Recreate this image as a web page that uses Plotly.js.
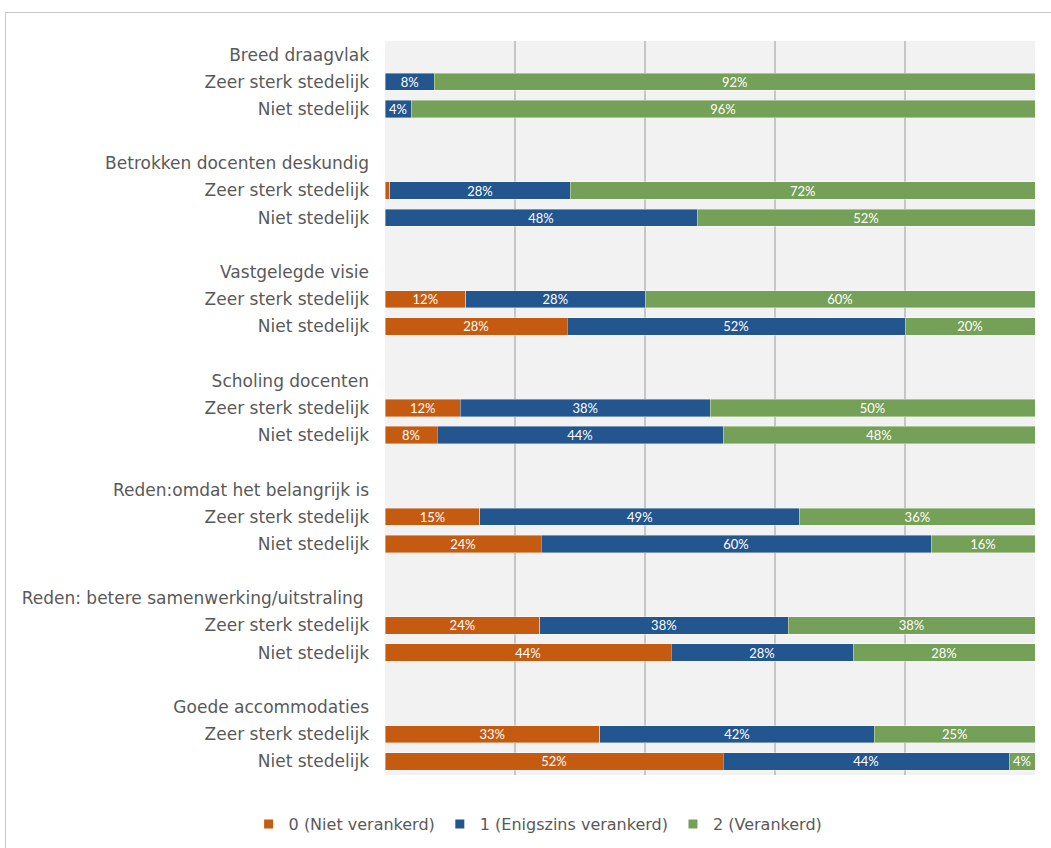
<!DOCTYPE html>
<html>
<head>
<meta charset="utf-8">
<script src="https://cdn.plot.ly/plotly-3.0.1.min.js"></script>
<style>
  html, body { margin: 0; padding: 0; background: #ffffff; overflow: hidden; }
  #frame { position: absolute; left: 5px; top: 12px; width: 1200px; height: 1000px; border: 1px solid #c9c9c9; box-sizing: border-box; }
  #chart { position: absolute; left: 0; top: 0; width: 1051px; height: 848px; }
</style>
</head>
<body>
<div id="frame"></div>
<div id="chart"></div>
<script>
// Groups (headers) and sub-rows
const groups = [
  "Breed draagvlak",
  "Betrokken docenten deskundig",
  "Vastgelegde visie",
  "Scholing docenten",
  "Reden:omdat het belangrijk is",
  "Reden: betere samenwerking/uitstraling\u00a0",
  "Goede accommodaties"
];
const subRows = ["Zeer sterk stedelijk", "Niet stedelijk"];

// Values per group: [Zeer sterk stedelijk, Niet stedelijk]
const niet = [
  [0, 0],
  [0.7, 0],
  [12.4, 28],
  [11.6, 8],
  [14.6, 24],
  [23.8, 44],
  [33, 52]
];
const enigszins = [
  [7.6, 4],
  [27.8, 48],
  [27.6, 52],
  [38.4, 44],
  [49.2, 60],
  [38.2, 28],
  [42.3, 44]
];
const verankerd = [
  [92.4, 96],
  [71.5, 52],
  [60, 20],
  [50, 48],
  [36.2, 16],
  [38, 28],
  [24.7, 4]
];

const seriesNames = ["0 (Niet verankerd)", "1 (Enigszins verankerd)", "2 (Verankerd)"];
const seriesColors = ["#c55a11", "#23558f", "#75a057"];
const seriesData = [niet, enigszins, verankerd];

const FONT = "'DejaVu Sans', Verdana, sans-serif";

// Build row layout: header, sub rows, blank spacer (except after last group)
const tickvals = [], ticktext = [];
const rowIndexOf = [];
let r = 0;
groups.forEach((g, gi) => {
  tickvals.push(r); ticktext.push(g); r++;
  rowIndexOf[gi] = [];
  subRows.forEach((s, si) => {
    tickvals.push(r); ticktext.push(s); rowIndexOf[gi][si] = r; r++;
  });
  if (gi < groups.length - 1) r++;
});
const nRows = r;

const traces = seriesData.map((data, k) => {
  const x = [], y = [], text = [];
  groups.forEach((g, gi) => {
    subRows.forEach((s, si) => {
      const v = data[gi][si];
      x.push(v);
      y.push(rowIndexOf[gi][si]);
      text.push(v >= 2 ? Math.round(v) + "%" : "");
    });
  });
  return {
    type: "bar",
    orientation: "h",
    name: seriesNames[k],
    x: x, y: y, text: text,
    textposition: "inside",
    insidetextanchor: "middle",
    constraintext: "none",
    textangle: 0,
    insidetextfont: { color: "#ffffff", size: 13, family: "Lato, 'Noto Sans', sans-serif" },
    marker: { color: seriesColors[k], line: { color: "rgba(255,255,255,0.55)", width: 0.7 } },
    width: 0.64,
    showlegend: false,
    hoverinfo: "skip"
  };
});

// legend-only entries with small square symbols
seriesNames.forEach((n, k) => {
  traces.push({
    type: "scatter", mode: "markers", name: n,
    x: [null], y: [null],
    marker: { symbol: "square", size: 9, color: seriesColors[k] },
    showlegend: true, hoverinfo: "skip"
  });
});

const layout = {
  width: 1051, height: 848,
  barmode: "stack",
  paper_bgcolor: "rgba(0,0,0,0)",
  plot_bgcolor: "#f2f2f2",
  margin: { l: 385, r: 16, t: 41, b: 73, pad: 0 },
  font: { family: FONT, color: "#595959", size: 17 },
  showlegend: true,
  legend: {
    orientation: "h", x: 0.512, xanchor: "center", xref: "container",
    y: 24 / 848, yref: "container", yanchor: "middle",
    font: { size: 16, color: "#595959", family: FONT },
    itemwidth: 30, traceorder: "normal"
  },
  xaxis: {
    range: [0, 100],
    showticklabels: false,
    showgrid: true, gridcolor: "#c6c6c6", gridwidth: 2,
    tickvals: [0, 20, 40, 60, 80, 100],
    zeroline: false, showline: false, ticks: "",
    fixedrange: true
  },
  yaxis: {
    range: [nRows - 0.5, -0.5],
    tickmode: "array",
    tickvals: tickvals, ticktext: ticktext,
    showgrid: false, zeroline: false, showline: false,
    ticks: "", ticklen: 0,
    automargin: false,
    ticklabelstandoff: 15,
    tickfont: { size: 17, color: "#595959", family: FONT },
    fixedrange: true
  },
  bargap: 0
};

Plotly.newPlot("chart", traces, layout, { displayModeBar: false, staticPlot: true });
</script>
</body>
</html>
